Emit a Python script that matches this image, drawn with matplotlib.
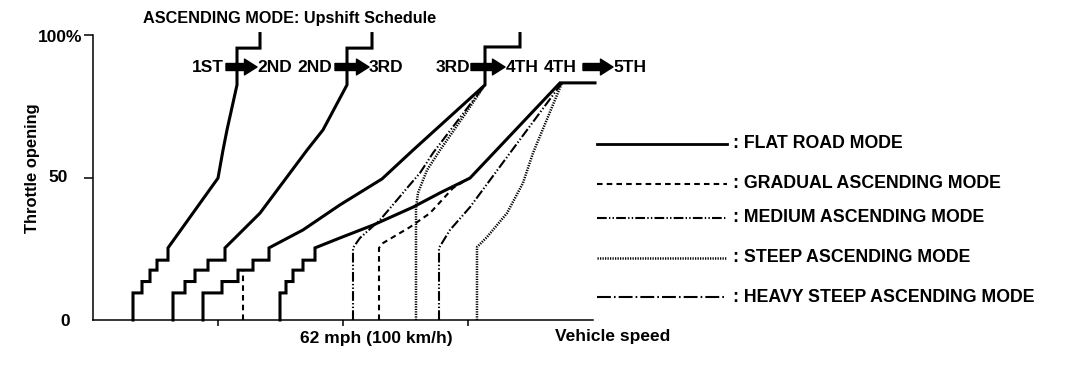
import matplotlib
matplotlib.use('Agg')
import matplotlib.pyplot as plt
from matplotlib.lines import Line2D

plt.rcParams['font.family'] = ['Liberation Sans', 'DejaVu Sans']
plt.rcParams['font.weight'] = 'bold'
plt.rcParams['lines.scale_dashes'] = False

W, H = 1072, 374

# ---- data (speed in km/h, throttle in %) ----
step_levels = [9.5, 13.5, 17.5, 21.0, 25.3]

# flat road mode: staircase risers + upper part of each upshift line
flat_12_risers = [16.0, 19.6, 22.8, 25.6, 30.0]
flat_12_speed = [50.0, 52.0, 53.6, 57.6, 57.6, 66.8, 66.8]
flat_12_throttle = [49.8, 59.6, 66.7, 82.5, 95.4, 95.4, 100.5]

flat_23_risers = [32.0, 36.8, 40.8, 46.0, 52.8]
flat_23_speed = [66.8, 85.6, 92.0, 101.6, 101.6, 111.6, 111.6]
flat_23_throttle = [37.5, 59.6, 66.7, 82.5, 95.4, 95.4, 100.5]

flat_34_risers = [44.0, 51.6, 58.0, 64.0, 70.4]
flat_34_speed = [84.0, 98.8, 115.6, 128.0, 156.8, 156.8, 170.8, 170.8]
flat_34_throttle = [31.6, 40.4, 49.5, 59.6, 82.5, 95.8, 95.8, 100.5]

flat_45_risers = [74.8, 77.2, 80.0, 84.0, 88.8]
flat_45_speed = [98.8, 112.0, 128.0, 138.8, 150.8, 186.8, 200.8]
flat_45_throttle = [28.8, 33.3, 39.6, 44.6, 49.8, 83.2, 83.2]

# gradual ascending mode
grad_34_speed = [60.0, 60.0]
grad_34_throttle = [0.0, 17.9]
grad_45_speed = [114.4, 114.4, 116.0, 126.8, 134.8, 144.0, 150.0]
grad_45_throttle = [0.0, 25.3, 27.0, 32.6, 37.5, 46.3, 49.5]

# medium ascending mode
med_34_speed = [104.0, 104.0, 106.8, 114.8, 121.6, 126.0, 130.8, 136.0, 156.8]
med_34_throttle = [0.0, 25.3, 28.8, 35.1, 42.1, 46.7, 51.6, 58.6, 82.5]
med_45_speed = [138.4, 138.4, 142.8, 150.8, 158.8, 166.8, 187.6]
med_45_throttle = [0.0, 25.3, 31.6, 39.6, 49.1, 58.6, 83.2]

# steep ascending mode
steep_34_speed = [129.2, 129.2, 130.0, 133.6, 138.8, 148.0, 156.8]
steep_34_throttle = [0.0, 39.3, 44.6, 52.6, 59.6, 71.2, 82.5]
steep_45_speed = [153.6, 153.6, 157.6, 165.6, 172.0, 176.0, 187.6]
steep_45_throttle = [0.0, 25.6, 29.1, 37.5, 48.1, 58.6, 83.2]

legend_labels = [': FLAT ROAD MODE', ': GRADUAL ASCENDING MODE',
                 ': MEDIUM ASCENDING MODE', ': STEEP ASCENDING MODE',
                 ': HEAVY STEEP ASCENDING MODE']
gear_labels = ['1ST', '2ND', '2ND', '3RD', '3RD', '4TH', '4TH', '5TH']

# line styles
SOLID = dict(color='black', lw=2.2, linestyle='-')
GRAD = dict(color='black', lw=1.5, linestyle=(0, (4.0, 3.0)))
MED = dict(color='black', lw=1.5, linestyle=(0, (7.0, 1.6, 1.0, 1.6, 1.0, 1.6)))
STEEP = dict(color='black', lw=1.8, linestyle=(0, (0.9, 0.9)))
HEAVY = dict(color='black', lw=1.5, linestyle=(0, (10.0, 2.2, 1.2, 2.2)))


def stairs(risers, levels):
    xs, ys = [risers[0]], [0.0]
    for i in range(len(risers)):
        xs.append(risers[i])
        ys.append(levels[i])
        if i + 1 < len(risers):
            xs.append(risers[i + 1])
            ys.append(levels[i])
    return xs, ys


def fpos(x, y):
    # pixel position (from top left) -> figure fraction
    return x / W, 1 - y / H


fig = plt.figure(figsize=(W / 100, H / 100), dpi=100)
ax = fig.add_axes([93 / W, 1 - 320 / H, 500 / W, 285 / H])
ax.set_xlim(0, 200)
ax.set_ylim(0, 100)

for risers, sp, th in [(flat_12_risers, flat_12_speed, flat_12_throttle),
                       (flat_23_risers, flat_23_speed, flat_23_throttle),
                       (flat_34_risers, flat_34_speed, flat_34_throttle),
                       (flat_45_risers, flat_45_speed, flat_45_throttle)]:
    xs, ys = stairs(risers, step_levels)
    ax.plot(xs + sp, ys + th, clip_on=False, solid_joinstyle='miter', **SOLID)

ax.plot(grad_34_speed, grad_34_throttle, clip_on=False, **GRAD)
ax.plot(grad_45_speed, grad_45_throttle, clip_on=False, **GRAD)
ax.plot(med_34_speed, med_34_throttle, clip_on=False, **MED)
ax.plot(med_45_speed, med_45_throttle, clip_on=False, **MED)
ax.plot(steep_34_speed, steep_34_throttle, clip_on=False, **STEEP)
ax.plot(steep_45_speed, steep_45_throttle, clip_on=False, **STEEP)

# axes look
for s in ['top', 'right']:
    ax.spines[s].set_visible(False)
for s in ['left', 'bottom']:
    ax.spines[s].set_linewidth(1.1)
ax.set_xticks([50, 100, 150])
ax.set_xticklabels([])
ax.set_yticks([50, 100])
ax.set_yticklabels([])
ax.tick_params(axis='x', direction='out', length=4, width=1.1)
ax.tick_params(axis='y', direction='out', length=6.5, width=1.1)

# tick labels and axis titles
fig.text(*fpos(82, 37), '100%', ha='right', va='center', fontsize=12.5)
fig.text(*fpos(68, 178), '50', ha='right', va='center', fontsize=12.5)
fig.text(*fpos(65, 322), '0', ha='center', va='center', fontsize=12.5)
fig.text(*fpos(32, 168), 'Throttle opening', rotation=90, ha='center', va='center',
         fontsize=11.9)
fig.text(*fpos(376, 338), '62 mph (100 km/h)', ha='center', va='center', fontsize=12.5)
fig.text(*fpos(613, 337), 'Vehicle speed', ha='center', va='center', fontsize=12.5)
fig.text(*fpos(290, 18), 'ASCENDING MODE: Upshift Schedule', ha='center', va='center',
         fontsize=11.7)

# gear labels and arrows
gear_x = [208, 275, 315, 386, 453, 522, 560, 630]
for gx, lab in zip(gear_x, gear_labels):
    fig.text(*fpos(gx, 67), lab, ha='center', va='center', fontsize=12.5)
arrow_x = [(226, 257), (335, 369), (471, 505), (583, 613)]
for x0, x1 in arrow_x:
    ax.annotate('', xy=(x1, H - 67), xytext=(x0, H - 67),
                xycoords='figure pixels', textcoords='figure pixels',
                arrowprops=dict(arrowstyle='simple,head_length=0.75,head_width=0.95,tail_width=0.42',
                                fc='black', ec='black', shrinkA=0, shrinkB=0,
                                mutation_scale=12))

# legend
legend_y = [144, 184, 218, 258, 297]
for ly, lab, st in zip(legend_y, legend_labels, [SOLID, GRAD, MED, STEEP, HEAVY]):
    x0, y0 = fpos(597, ly)
    x1, _ = fpos(727, ly)
    kw = dict(st)
    if st is SOLID:
        kw['lw'] = 2.0
    fig.add_artist(Line2D([x0, x1], [y0, y0], **kw))
    fig.text(*fpos(733, ly), lab, ha='left', va='center', fontsize=12.8)

fig.savefig('out.png', dpi=100)
